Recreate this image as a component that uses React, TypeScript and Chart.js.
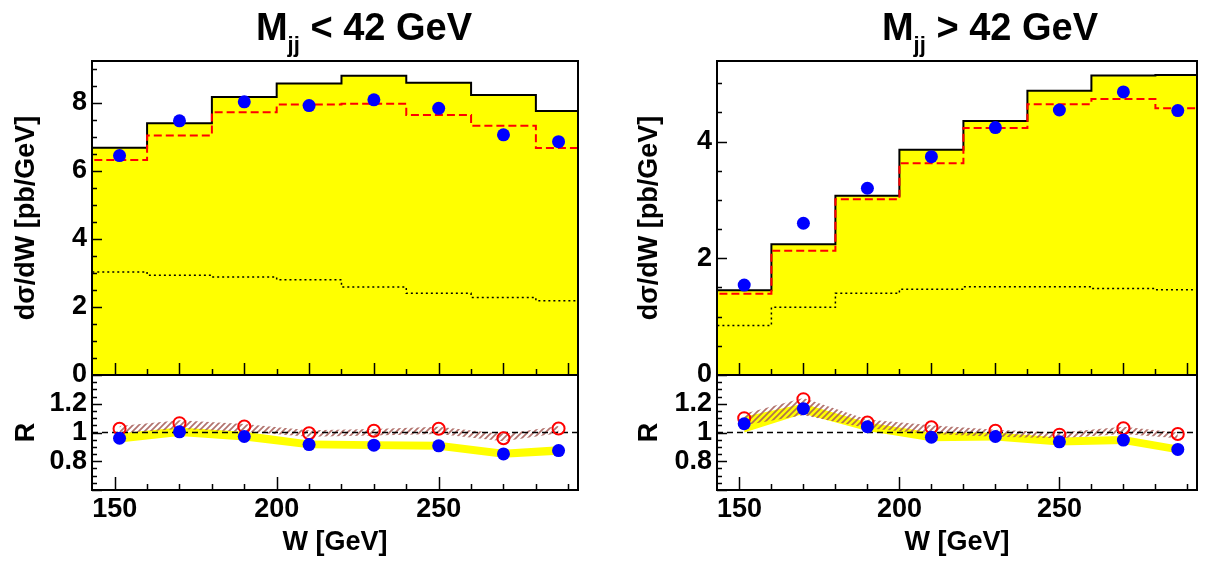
import React, { useEffect, useRef } from "react";
import { Chart, registerables } from "chart.js";

Chart.register(...registerables);

const FONT = '"Liberation Sans", Arial, Helvetica, sans-serif';

// ---------- shared axis definitions ----------
const X_MIN = 143;
const X_MAX = 293;
const BIN_EDGES = [140, 160, 180, 200, 220, 240, 260, 280, 300];
const POINT_W = [151.5, 170, 190, 210, 230, 250, 270, 287];
const X_TICK_LABELS = [150, 200, 250];
const R_TICK_LABELS = [0.8, 1, 1.2];
const R_MIN = 0.6;
const R_MAX = 1.4;
const UPPER_X_LONG = [150, 170, 190, 210, 230, 250, 270, 290];
const UPPER_X_SHORT = [160, 180, 200, 220, 240, 260, 280];
const LOWER_X_LONG = [150, 200, 250];
const LOWER_X_SHORT = [160, 170, 180, 190, 210, 220, 230, 240, 260, 270, 280, 290];

// ---------- M_jj < 42 GeV ----------
const LOW_TITLE = "< 42 GeV";
const LOW_Y_MAX = 9.23;
const LOW_Y_TICKS = [0, 2, 4, 6, 8];
const LOW_TOTAL = [6.68, 7.4, 8.17, 8.57, 8.8, 8.59, 8.23, 7.76];
const LOW_RED = [6.32, 7.04, 7.72, 7.95, 7.97, 7.64, 7.33, 6.67];
const LOW_DOTTED = [3.03, 2.93, 2.88, 2.8, 2.59, 2.4, 2.28, 2.18];
const LOW_DATA = [6.45, 7.47, 8.03, 7.92, 8.09, 7.84, 7.06, 6.86];
const LOW_R_RED = [1.026, 1.065, 1.042, 0.995, 1.012, 1.026, 0.96, 1.028];
const LOW_R_BLUE = [0.96, 1.005, 0.972, 0.916, 0.912, 0.907, 0.851, 0.874];
const LOW_BAND_HI = [0.995, 1.035, 1.005, 0.945, 0.94, 0.935, 0.88, 0.905];
const LOW_BAND_LO = [0.93, 0.975, 0.945, 0.89, 0.885, 0.88, 0.825, 0.845];
const LOW_HATCH_HI = [1.045, 1.085, 1.06, 1.015, 1.025, 1.04, 0.99, 1.045];
const LOW_HATCH_LO = [0.995, 1.025, 1.005, 0.97, 0.98, 0.99, 0.94, 0.995];

// ---------- M_jj > 42 GeV ----------
const HIGH_TITLE = "> 42 GeV";
const HIGH_Y_MAX = 5.38;
const HIGH_Y_TICKS = [0, 2, 4];
const HIGH_TOTAL = [1.45, 2.24, 3.07, 3.86, 4.35, 4.87, 5.13, 5.14];
const HIGH_RED = [1.39, 2.13, 3.01, 3.63, 4.23, 4.64, 4.73, 4.57];
const HIGH_DOTTED = [0.85, 1.16, 1.4, 1.47, 1.51, 1.51, 1.48, 1.46];
const HIGH_DATA = [1.54, 2.6, 3.2, 3.74, 4.24, 4.54, 4.85, 4.53];
const HIGH_R_RED = [1.1, 1.232, 1.07, 1.037, 1.012, 0.985, 1.03, 0.99];
const HIGH_R_BLUE = [1.061, 1.166, 1.04, 0.967, 0.972, 0.935, 0.947, 0.882];
const HIGH_BAND_HI = [1.11, 1.2, 1.07, 1.0, 1.0, 0.965, 0.975, 0.91];
const HIGH_BAND_LO = [1.0, 1.13, 1.01, 0.94, 0.945, 0.91, 0.92, 0.855];
const HIGH_HATCH_HI = [1.13, 1.24, 1.09, 1.05, 1.02, 1.0, 1.04, 1.0];
const HIGH_HATCH_LO = [1.05, 1.12, 1.03, 0.99, 0.97, 0.96, 0.99, 0.96];

type PanelSpec = {
  title: string;
  yMax: number;
  yTicks: number[];
  total: number[];
  red: number[];
  dotted: number[];
  data: number[];
  rRed: number[];
  rBlue: number[];
  bandHi: number[];
  bandLo: number[];
  hatchHi: number[];
  hatchLo: number[];
};

const LOW_SPEC: PanelSpec = {
  title: LOW_TITLE, yMax: LOW_Y_MAX, yTicks: LOW_Y_TICKS, total: LOW_TOTAL, red: LOW_RED,
  dotted: LOW_DOTTED, data: LOW_DATA, rRed: LOW_R_RED, rBlue: LOW_R_BLUE,
  bandHi: LOW_BAND_HI, bandLo: LOW_BAND_LO, hatchHi: LOW_HATCH_HI, hatchLo: LOW_HATCH_LO,
};
const HIGH_SPEC: PanelSpec = {
  title: HIGH_TITLE, yMax: HIGH_Y_MAX, yTicks: HIGH_Y_TICKS, total: HIGH_TOTAL, red: HIGH_RED,
  dotted: HIGH_DOTTED, data: HIGH_DATA, rRed: HIGH_R_RED, rBlue: HIGH_R_BLUE,
  bandHi: HIGH_BAND_HI, bandLo: HIGH_BAND_LO, hatchHi: HIGH_HATCH_HI, hatchLo: HIGH_HATCH_LO,
};

const stepData = (values: number[]) =>
  BIN_EDGES.map((x, i) => ({ x, y: values[Math.min(i, values.length - 1)] }));
const pointData = (values: number[]) => POINT_W.map((x, i) => ({ x, y: values[i] }));

function makeHatch(color: string) {
  const size = 6;
  const c = document.createElement("canvas");
  c.width = size;
  c.height = size;
  const g = c.getContext("2d")!;
  g.strokeStyle = color;
  g.lineWidth = 1.7;
  g.beginPath();
  g.moveTo(0, size);
  g.lineTo(size, 0);
  g.moveTo(-1, 1);
  g.lineTo(1, -1);
  g.moveTo(size - 1, size + 1);
  g.lineTo(size + 1, size - 1);
  g.stroke();
  return g.createPattern(c, "repeat");
}

const rootAxesPlugin = {
  id: "rootAxes",
  afterDatasetsDraw(chart: any) {
    const { ctx } = chart;
    const xs = chart.scales.x;
    const ym = chart.scales.yMain;
    const yr = chart.scales.yR;
    const L = chart.chartArea.left;
    const R = chart.chartArea.right;
    ctx.save();
    ctx.strokeStyle = "#000";
    ctx.lineWidth = 1.5;
    ctx.beginPath();
    const vTick = (v: number, yBase: number, len: number) => {
      const px = Math.round(xs.getPixelForValue(v)) + 0.5;
      ctx.moveTo(px, yBase);
      ctx.lineTo(px, yBase - len);
    };
    const hTick = (scale: any, v: number, len: number) => {
      const py = Math.round(scale.getPixelForValue(v)) + 0.5;
      ctx.moveTo(L, py);
      ctx.lineTo(L + len, py);
    };
    UPPER_X_LONG.forEach((v) => vTick(v, ym.bottom, 12));
    UPPER_X_SHORT.forEach((v) => vTick(v, ym.bottom, 6));
    LOWER_X_LONG.forEach((v) => vTick(v, yr.bottom, 13));
    LOWER_X_SHORT.forEach((v) => vTick(v, yr.bottom, 6));
    for (let k = 0; k * 0.5 <= ym.max; k++) {
      hTick(ym, k * 0.5, k % 4 === 0 ? 10 : 5);
    }
    for (let k = 0; k <= 16; k++) {
      hTick(yr, R_MIN + k * 0.05, k % 4 === 0 ? 10 : 5);
    }
    ctx.stroke();
    ctx.lineWidth = 2;
    ctx.strokeRect(L, ym.top, R - L, ym.bottom - ym.top);
    ctx.strokeRect(L, yr.top, R - L, yr.bottom - yr.top);
    ctx.restore();
  },
};

function Panel({ spec, left, width, yWidth, padRight, titlePad, titleCenter }: {
  spec: PanelSpec; left: number; width: number; yWidth: number; padRight: number; titlePad: number; titleCenter: number;
}) {
  const ref = useRef<HTMLCanvasElement>(null);
  useEffect(() => {
    const canvas = ref.current!;
    const hatch = makeHatch("rgba(165, 90, 85, 0.85)");
    const tickFont = { family: FONT, size: 27, weight: "bold" as const };
    const titleFont = { family: FONT, size: 27, weight: "bold" as const };
    const chart = new Chart(canvas, {
      type: "line",
      data: {
        datasets: [
          // upper panel
          { data: stepData(spec.total), yAxisID: "yMain", stepped: true, borderColor: "#000", borderWidth: 2,
            backgroundColor: "#ffff00", fill: "origin", pointRadius: 0, order: 20 } as any,
          { data: stepData(spec.red), yAxisID: "yMain", stepped: true, borderColor: "#ff0000", borderWidth: 2,
            borderDash: [8, 4], fill: false, pointRadius: 0, order: 19 },
          { data: stepData(spec.dotted), yAxisID: "yMain", stepped: true, borderColor: "#000", borderWidth: 1.5,
            borderDash: [2, 3], fill: false, pointRadius: 0, order: 18 },
          { data: pointData(spec.data), yAxisID: "yMain", showLine: false, pointRadius: 6.5,
            pointBackgroundColor: "#0000ff", pointBorderWidth: 0, borderColor: "#0000ff", order: 17 },
          // ratio panel
          { data: pointData(spec.bandHi), yAxisID: "yR", borderWidth: 0, pointRadius: 0,
            backgroundColor: "#ffff00", fill: "+1", order: 16 },
          { data: pointData(spec.bandLo), yAxisID: "yR", borderWidth: 0, pointRadius: 0, fill: false, order: 15 },
          { data: pointData(spec.hatchHi), yAxisID: "yR", borderWidth: 0, pointRadius: 0,
            backgroundColor: hatch as any, fill: "+1", order: 14 },
          { data: pointData(spec.hatchLo), yAxisID: "yR", borderWidth: 0, pointRadius: 0, fill: false, order: 13 },
          { data: [{ x: X_MIN, y: 1 }, { x: X_MAX, y: 1 }], yAxisID: "yR", borderColor: "#000", borderWidth: 1.5,
            borderDash: [6, 4], pointRadius: 0, fill: false, order: 12 },
          { data: pointData(spec.rRed), yAxisID: "yR", showLine: false, pointRadius: 6,
            pointBackgroundColor: "rgba(0,0,0,0)", pointBorderColor: "#ff0000", pointBorderWidth: 2, order: 11 },
          { data: pointData(spec.rBlue), yAxisID: "yR", showLine: false, pointRadius: 6.5,
            pointBackgroundColor: "#0000ff", pointBorderWidth: 0, borderColor: "#0000ff", order: 10 },
        ],
      },
      options: {
        responsive: false,
        animation: false,
        events: [],
        layout: { padding: { left: 0, right: padRight, top: 61, bottom: 0 } },
        plugins: { legend: { display: false }, tooltip: { enabled: false }, title: { display: false } },
        scales: {
          x: {
            type: "linear", position: "bottom", min: X_MIN, max: X_MAX,
            afterBuildTicks: (s: any) => { s.ticks = X_TICK_LABELS.map((v) => ({ value: v })); },
            afterFit: (s: any) => { s.height = 72; },
            grid: { display: false, drawTicks: false },
            border: { display: false },
            ticks: { autoSkip: false, maxRotation: 0, padding: 3, color: "#000", font: tickFont,
              callback: (v: any) => String(v) },
            title: { display: true, text: "W [GeV]", color: "#000", font: titleFont, padding: { top: 0, bottom: 3 } },
          },
          yR: {
            type: "linear", position: "left", stack: "p", stackWeight: 115, weight: 0, min: R_MIN, max: R_MAX,
            afterBuildTicks: (s: any) => { s.ticks = R_TICK_LABELS.map((v) => ({ value: v })); },
            afterFit: (s: any) => { s.width = yWidth; },
            grid: { display: false, drawTicks: false },
            border: { display: false },
            ticks: { autoSkip: false, padding: 5, color: "#000", font: tickFont, callback: (v: any) => String(v) },
            title: { display: true, text: "R", color: "#000", font: titleFont, padding: { top: titlePad, bottom: 0 } },
          },
          yMain: {
            type: "linear", position: "left", stack: "p", stackWeight: 314, weight: 1, min: 0, max: spec.yMax,
            afterBuildTicks: (s: any) => { s.ticks = spec.yTicks.map((v) => ({ value: v })); },
            afterFit: (s: any) => { s.width = yWidth; },
            grid: { display: false, drawTicks: false },
            border: { display: false },
            ticks: { autoSkip: false, padding: 5, color: "#000", font: tickFont, callback: (v: any) => String(v) },
            title: { display: true, text: "dσ/dW [pb/GeV]", color: "#000", font: titleFont,
              padding: { top: titlePad, bottom: 0 } },
          },
        } as any,
      },
      plugins: [rootAxesPlugin],
    } as any);
    return () => chart.destroy();
  }, []);

  return (
    <>
      <canvas
        ref={ref}
        width={width}
        height={562}
        style={{ position: "absolute", left, top: 0, width, height: 562 }}
      />
      <div
        style={{
          position: "absolute", left: titleCenter - 200, top: 8, width: 400, textAlign: "center",
          fontFamily: FONT, fontWeight: "bold", fontSize: 38, lineHeight: "38px", color: "#000", whiteSpace: "nowrap",
        }}
      >
        M<span style={{ fontSize: 22, position: "relative", top: 12 }}>jj</span> {spec.title}
      </div>
    </>
  );
}

export default function App() {
  return (
    <div style={{ position: "absolute", left: 0, top: 0, width: 1205, height: 562, background: "#fff", overflow: "hidden" }}>
      <Panel spec={LOW_SPEC} left={0} width={600} yWidth={92} padRight={22} titlePad={10} titleCenter={364} />
      <Panel spec={HIGH_SPEC} left={605} width={600} yWidth={112} padRight={4} titlePad={28} titleCenter={990} />
    </div>
  );
}
